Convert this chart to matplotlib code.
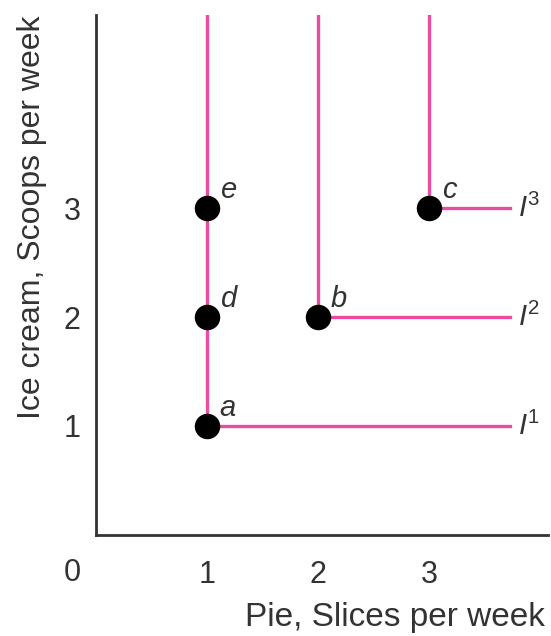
import matplotlib
matplotlib.use("Agg")
import matplotlib.pyplot as plt

# indifference curves: corner point (pie, ice cream) and label
corner_x = [1, 2, 3]
corner_y = [1, 2, 3]
curve_labels = ["$I^1$", "$I^2$", "$I^3$"]

# bundles
bundle_names = ["a", "b", "c", "d", "e"]
bundle_x = [1, 2, 3, 1, 1]
bundle_y = [1, 2, 3, 2, 3]

x_ticks = [1, 2, 3]
y_ticks = [1, 2, 3]

x_max, y_max = 4.07, 4.77
line_end = 3.73
pink = "#ec4c9f"
ink = "#333333"
fs = 21

plt.rcParams['font.family'] = ['Liberation Sans', 'DejaVu Sans']
plt.rcParams['mathtext.fontset'] = 'custom'
plt.rcParams['mathtext.it'] = 'Liberation Sans:italic'
plt.rcParams['mathtext.rm'] = 'Liberation Sans'

fig = plt.figure(figsize=(5.51, 6.36), dpi=100)
ax = fig.add_axes([0.174, 0.159, 0.821, 0.817])

for cx, cy, lab in zip(corner_x, corner_y, curve_labels):
    ax.plot([cx, cx, line_end], [y_max, cy, cy], color=pink, lw=2.4,
            solid_joinstyle='miter', zorder=2)
    ax.text(line_end + 0.07, cy, lab, fontsize=fs, va='center', ha='left',
            color=ink)

ax.scatter(bundle_x, bundle_y, s=300, color='black', zorder=3)
for name, bx, by in zip(bundle_names, bundle_x, bundle_y):
    ax.annotate(name, (bx, by), xytext=(9, 7), textcoords='offset points',
                fontsize=fs, style='italic', color=ink)

ax.set_xlim(0, x_max)
ax.set_ylim(0, y_max)
ax.spines['top'].set_visible(False)
ax.spines['right'].set_visible(False)
for s in ['left', 'bottom']:
    ax.spines[s].set_linewidth(2)
    ax.spines[s].set_color(ink)

ax.set_xticks(x_ticks)
ax.set_yticks(y_ticks)
ax.tick_params(length=0, labelsize=22, labelcolor=ink)
ax.tick_params(axis='x', pad=18)
ax.tick_params(axis='y', pad=11)
ax.text(-0.215, -0.35, "0", fontsize=22, ha='center', va='center',
        color=ink)

ax.set_xlabel("Pie, Slices per week", fontsize=24, color=ink, loc='right')
ax.xaxis.set_label_coords(0.993, -0.13)
ax.set_ylabel("Ice cream, Scoops per week", fontsize=23, color=ink,
              loc='top')
ax.yaxis.set_label_coords(-0.108, 1.0)

fig.savefig("out.png", dpi=100)
